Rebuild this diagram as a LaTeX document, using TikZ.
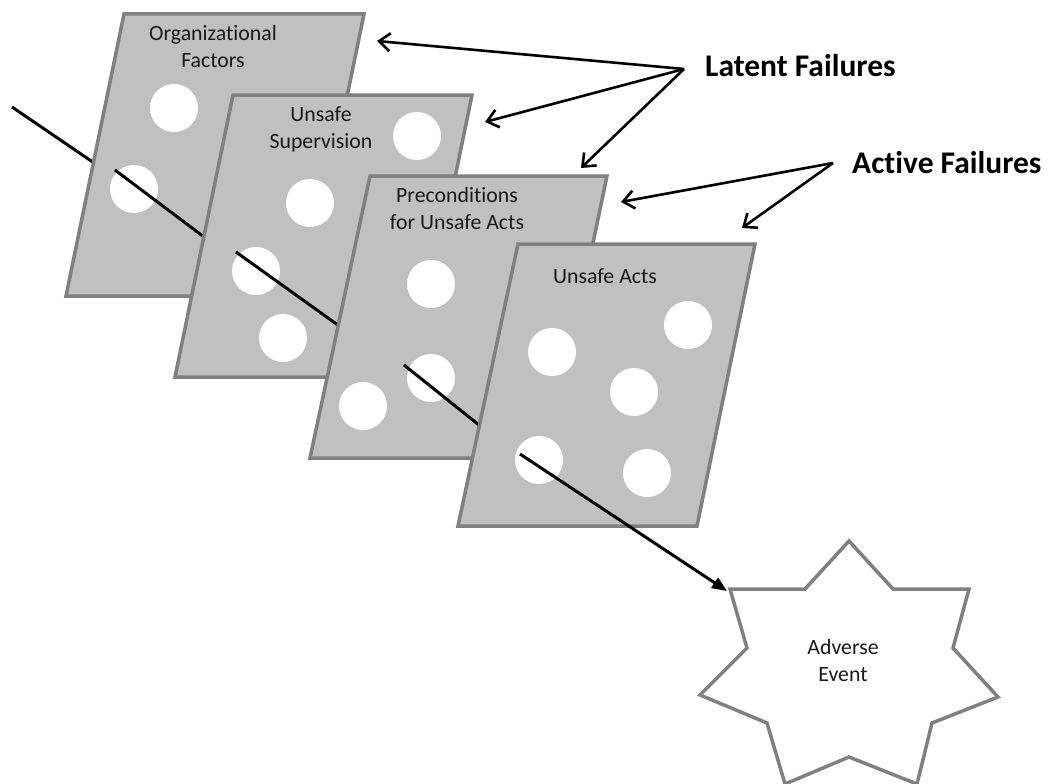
\documentclass[tikz,border=0pt]{standalone}
\usepackage{fontspec}
\setmainfont{Carlito}[Ligatures=NoCommon]
\usetikzlibrary{arrows.meta}
\definecolor{slicefill}{RGB}{192,192,192}
\definecolor{sliceedge}{RGB}{128,128,128}
\definecolor{txt}{RGB}{25,25,25}
\tikzset{
  slice/.style={draw=sliceedge, fill=slicefill, line width=3.5pt, line join=miter},
  hole/.style={fill=white, draw=none},
  traj/.style={draw=black, line width=3pt},
  lbl/.style={font=\fontsize{21.8}{26.5}\selectfont, text=txt, align=center, anchor=base, inner sep=0pt},
  big/.style={font=\fontsize{31.5}{36}\selectfont\bfseries, text=black, anchor=base west, inner sep=0pt},
  pointer/.style={draw=black, line width=2.6pt, -{Straight Barb[length=11pt,width=18pt,line width=2.6pt]}},
  eventarrow/.style={draw=black, line width=3pt, -{Triangle[length=15pt,width=12pt]}},
  starline/.style={draw=sliceedge, fill=white, line width=3.5pt, line join=miter}
}
\begin{document}
\begin{tikzpicture}[x=1pt,y=-1pt]
\useasboundingbox (0,0) rectangle (1052,784);
% trajectory coordinates
\coordinate (p0) at (12,107);
\coordinate (p0e) at (100,167);
\coordinate (p1) at (115,170);
\coordinate (p1e) at (212,243);
\coordinate (p2) at (236,252);
\coordinate (p2e) at (342,328);
\coordinate (p3) at (404,365);
\coordinate (p3e) at (484,429);
\coordinate (p4) at (520,454);
% segment before first slice
\draw[traj] (p0) -- (p0e);
% slice 1
\draw[slice] (124,14) -- (364,14) -- (306,296) -- (66,296) -- cycle;
\fill[hole] (174,108) circle (24);
\fill[hole] (134,189) circle (24);
\draw[traj] (p1) -- (p1e);
% slice 2
\draw[slice] (233,95) -- (472,95) -- (414,377) -- (175,377) -- cycle;
\fill[hole] (417,136) circle (24);
\fill[hole] (310,203) circle (24);
\fill[hole] (256,271) circle (24);
\fill[hole] (283,338) circle (24);
\draw[traj] (p2) -- (p2e);
% slice 3
\draw[slice] (370,176) -- (607,176) -- (548,458) -- (310,458) -- cycle;
\fill[hole] (431,284) circle (24);
\fill[hole] (431,378) circle (24);
\fill[hole] (363,406) circle (24);
\draw[traj] (p3) -- (p3e);
% slice 4
\draw[slice] (518,244) -- (755,244) -- (697,526) -- (458,526) -- cycle;
\fill[hole] (688,325) circle (24);
\fill[hole] (552,352) circle (24);
\fill[hole] (634,392) circle (24);
\fill[hole] (539,460) circle (24);
\fill[hole] (647,473) circle (24);
% star
\draw[starline] (849,541) -- (893,589) -- (969,589) -- (953,648) -- (998,697)
  -- (932,723) -- (917,784) -- (849,757) -- (785,784) -- (767,723)
  -- (700,695) -- (747,648) -- (730,589) -- (805,589) -- cycle;
\coordinate (startip) at (727,591);
\draw[eventarrow] (p4) -- (startip);
% slice labels (base anchor = last line baseline)
\node[lbl] (org) at (213,67) {Organizational\\Factors};
\node[lbl] (sup) at (321,148) {Unsafe\\Supervision};
\node[lbl] (pre) at (457,229) {Preconditions\\for Unsafe Acts};
\node[lbl] (act) at (605,283) {Unsafe Acts};
\node[lbl] (adv) at (843,681) {Adverse\\Event};
% failure labels
\node[big] (latent) at (705,77) {Latent Failures};
\node[big] (active) at (852,173) {Active Failures};
\coordinate (lo) at (684,69);
\coordinate (ao) at (833,163);
\coordinate (t1) at (377,41);
\coordinate (t2) at (485,122);
\coordinate (t3) at (581,168);
\coordinate (t4) at (621,202);
\coordinate (t5) at (742,228);
\draw[pointer] (lo) -- (t1);
\draw[pointer] (lo) -- (t2);
\draw[pointer] (lo) -- (t3);
\draw[pointer] (ao) -- (t4);
\draw[pointer] (ao) -- (t5);
\end{tikzpicture}
\end{document}
